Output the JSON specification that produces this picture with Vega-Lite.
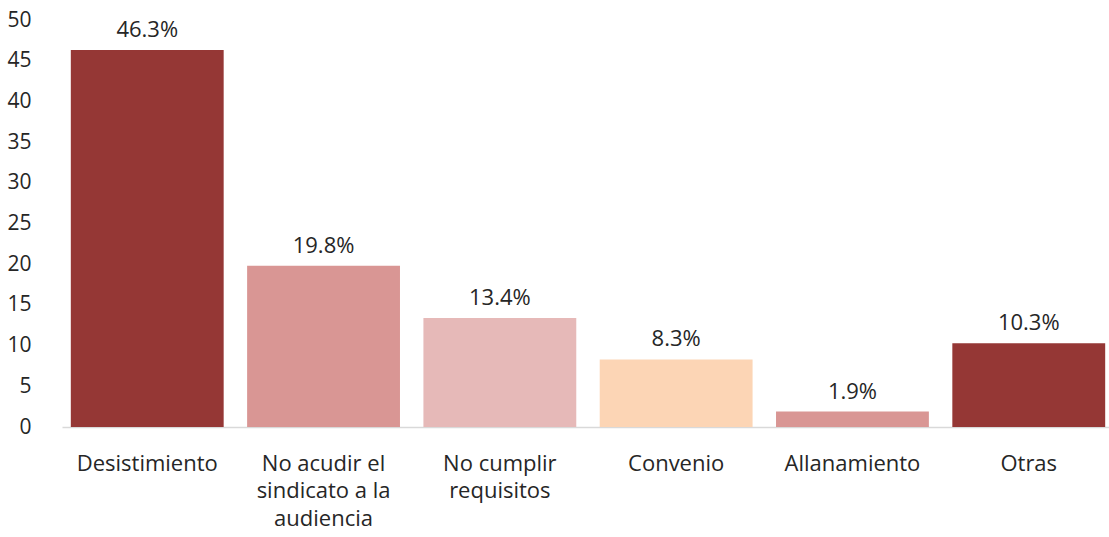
{
  "$schema": "https://vega.github.io/schema/vega-lite/v6.json",
  "width": 1052,
  "height": 407,
  "autosize": "none",
  "padding": {"left": 62, "top": 20, "right": 0, "bottom": 110},
  "background": "white",
  "config": {"view": {"stroke": null}, "font": "Open Sans"},
  "data": {"values": [
    {"cat": "Desistimiento", "value": 46.3, "label": "46.3%", "color": "#953735"},
    {"cat": "No acudir el|sindicato a la|audiencia", "value": 19.8, "label": "19.8%", "color": "#D99694"},
    {"cat": "No cumplir|requisitos", "value": 13.4, "label": "13.4%", "color": "#E6B9B8"},
    {"cat": "Convenio", "value": 8.3, "label": "8.3%", "color": "#FCD5B5"},
    {"cat": "Allanamiento", "value": 1.9, "label": "1.9%", "color": "#D99694"},
    {"cat": "Otras", "value": 10.3, "label": "10.3%", "color": "#953735"}
  ]},
  "encoding": {
    "x": {"field": "cat", "type": "nominal", "sort": null,
      "scale": {"paddingInner": 0.133, "paddingOuter": 0.05},
      "axis": {"title": null, "labelAngle": 0, "ticks": false, "domainColor": "#D9D9D9", "domainWidth": 1.5,
        "labelExpr": "split(datum.label, '|')", "labelFontSize": 22, "labelColor": "#262626",
        "labelPadding": 26, "labelLineHeight": 27.5, "labelFont": "Open Sans"}},
    "y": {"field": "value", "type": "quantitative",
      "scale": {"domain": [0, 50]},
      "axis": {"title": null, "values": [0,5,10,15,20,25,30,35,40,45,50], "grid": false, "domain": false, "ticks": false,
        "labelFontSize": 21, "labelColor": "#262626", "labelPadding": 31, "labelFont": "Open Sans"}}
  },
  "layer": [
    {"mark": {"type": "bar"}, "encoding": {"color": {"field": "color", "type": "nominal", "scale": null}}},
    {"mark": {"type": "text", "baseline": "bottom", "dy": -8, "fontSize": 22, "color": "#262626", "font": "Open Sans"},
     "encoding": {"text": {"field": "label"}}}
  ]
}
